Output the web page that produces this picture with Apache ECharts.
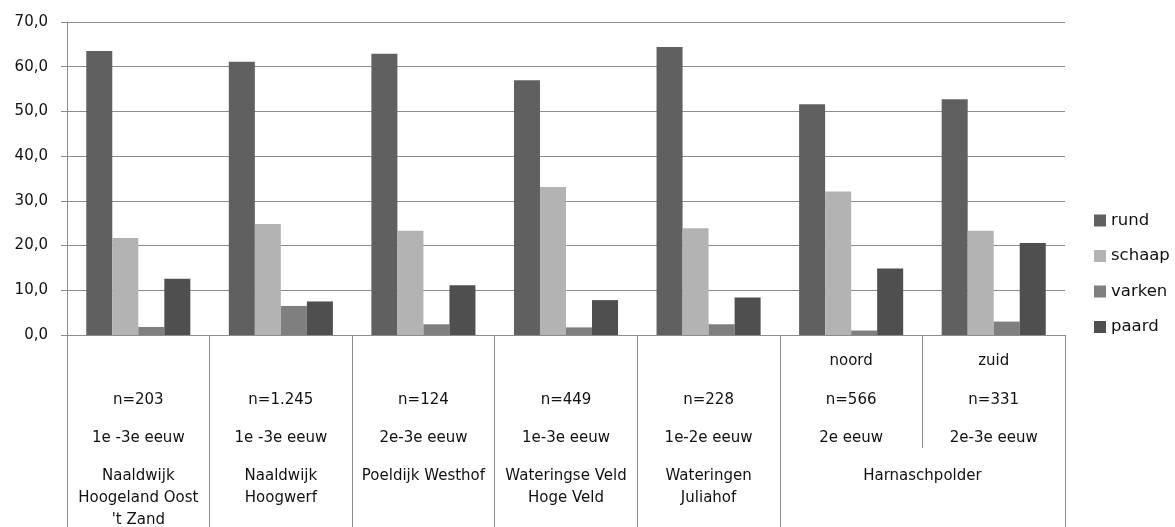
<!DOCTYPE html>
<html>
<head>
<meta charset="utf-8">
<title>Botenspectrum: rund, schaap, varken, paard</title>
<script src="https://cdn.jsdelivr.net/npm/echarts@6/dist/echarts.min.js"></script>
<style>
  html, body { margin: 0; padding: 0; background: #fff; }
  #chart { width: 1175px; height: 527px; }
</style>
</head>
<body>
<div id="chart"></div>
<script>
// Site names per column; neighbouring columns with the same name share one label
const siteNames = [
  "Naaldwijk\nHoogeland Oost\n't Zand",
  "Naaldwijk\nHoogwerf",
  "Poeldijk Westhof",
  "Wateringse Veld\nHoge Veld",
  "Wateringen\nJuliahof",
  "Harnaschpolder",
  "Harnaschpolder"
];
const subAreas = ["", "", "", "", "", "noord", "zuid"];
const sampleSizes = ["n=203", "n=1.245", "n=124", "n=449", "n=228", "n=566", "n=331"];
const periods = ["1e -3e eeuw", "1e -3e eeuw", "2e-3e eeuw", "1e-3e eeuw", "1e-2e eeuw", "2e eeuw", "2e-3e eeuw"];

// Percentages per species
const rund   = [63.5, 61.1, 62.9, 57.0, 64.4, 51.6, 52.7];
const schaap = [21.7, 24.8, 23.3, 33.1, 23.9, 32.1, 23.3];
const varken = [1.8, 6.5, 2.4, 1.7, 2.4, 1.0, 3.0];
const paard  = [12.6, 7.5, 11.1, 7.8, 8.4, 14.9, 20.6];

const speciesNames = ["rund", "schaap", "varken", "paard"];
const speciesColors = ["#606060", "#b3b3b3", "#7f7f7f", "#4f4f4f"];
const speciesValues = [rund, schaap, varken, paard];

const FONT = "DejaVu Sans";
const TEXT = "#111";
const LINE = "#8c8c8c";

// Group consecutive columns that belong to the same site
const siteGroups = [];
siteNames.forEach(function (name, i) {
  const last = siteGroups[siteGroups.length - 1];
  if (last && last.name === name) { last.to = i; }
  else { siteGroups.push({ name: name, from: i, to: i }); }
});

const chart = echarts.init(document.getElementById("chart"), null, { renderer: "canvas" });

chart.setOption({
  animation: false,
  backgroundColor: "#fff",
  textStyle: { fontFamily: FONT },
  grid: { left: 67, right: 110, top: 22, bottom: 192, containLabel: false, outerBoundsMode: "none" },
  legend: {
    orient: "vertical",
    left: 1094,
    top: 212,
    padding: 0,
    itemWidth: 12,
    itemHeight: 12,
    itemGap: 18.5,
    icon: "rect",
    data: speciesNames,
    textStyle: { fontFamily: FONT, fontSize: 16.5, color: TEXT, lineHeight: 16 }
  },
  xAxis: [
    {
      // sub-area, sample size and period rows; short separators
      type: "category",
      position: "bottom",
      data: sampleSizes,
      axisLine: { show: true, lineStyle: { color: LINE, width: 1 } },
      axisTick: { show: true, length: 113, interval: 0, lineStyle: { color: LINE, width: 1 } },
      axisLabel: {
        interval: 0,
        margin: 7,
        fontFamily: FONT,
        fontSize: 15,
        color: TEXT,
        lineHeight: 38.5,
        formatter: function (value, i) {
          return (subAreas[i] || " ") + "\n" + sampleSizes[i] + "\n" + periods[i];
        }
      },
      splitLine: { show: false }
    },
    {
      // long separators between sites
      type: "category",
      position: "bottom",
      data: sampleSizes,
      min: 0,
      max: sampleSizes.length - 1,
      axisLine: { show: false },
      axisLabel: { show: false },
      axisTick: {
        show: true,
        length: 192,
        interval: function (i) { return i === 0 || siteNames[i] !== siteNames[i - 1]; },
        lineStyle: { color: LINE, width: 1 }
      },
      splitLine: { show: false }
    },
    {
      // site names, centred under their columns
      type: "value",
      position: "bottom",
      min: 0,
      max: siteNames.length,
      interval: 0.5,
      axisLine: { show: false },
      axisTick: { show: false },
      splitLine: { show: false },
      axisLabel: {
        margin: 130,
        fontFamily: FONT,
        fontSize: 15,
        color: TEXT,
        lineHeight: 22,
        showMinLabel: true,
        showMaxLabel: true,
        formatter: function (v) {
          const g = siteGroups.find(function (s) { return Math.abs((s.from + s.to + 1) / 2 - v) < 1e-6; });
          return g ? g.name : "";
        }
      }
    }
  ],
  yAxis: {
    type: "value",
    min: 0,
    max: 70,
    interval: 10,
    axisLine: { show: true, lineStyle: { color: LINE, width: 1 } },
    axisTick: { show: true, length: 6, lineStyle: { color: LINE, width: 1 } },
    axisLabel: {
      margin: 19,
      fontFamily: FONT,
      fontSize: 15,
      color: TEXT,
      formatter: function (v) { return v.toFixed(1).replace(".", ","); }
    },
    splitLine: { show: true, lineStyle: { color: LINE, width: 1 } }
  },
  series: speciesNames.map(function (name, k) {
    return {
      name: name,
      type: "bar",
      xAxisIndex: 0,
      data: speciesValues[k],
      barGap: "0%",
      barCategoryGap: "27%",
      itemStyle: { color: speciesColors[k] }
    };
  })
});
</script>
</body>
</html>
